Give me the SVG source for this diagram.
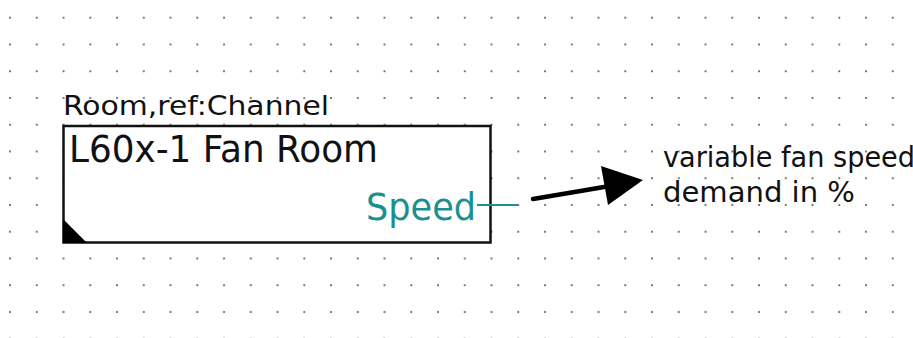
<svg xmlns="http://www.w3.org/2000/svg" width="913" height="338" viewBox="0 0 913 338">
<style>
.lbl{font-family:"DejaVu Sans","Liberation Sans",sans-serif;fill:#111}
.port{font-family:"DejaVu Sans","Liberation Sans",sans-serif;fill:#1a9090}
</style>
<defs>
<pattern id="grid" patternUnits="userSpaceOnUse" x="9" y="16.7" width="26.75" height="26.75">
<rect x="0.1" y="0.1" width="1.9" height="1.9" fill="#6e6e6e"/>
</pattern>
</defs>
<rect width="913" height="338" fill="#fff"/>
<rect width="913" height="338" fill="url(#grid)"/>
<g id="room">
<text class="lbl" x="63" y="114.5" font-size="27" textLength="266" lengthAdjust="spacingAndGlyphs">Room,ref:Channel</text>
<rect x="63.5" y="126" width="427" height="116.5" fill="#fff" stroke="#111" stroke-width="2.5"/>
<path d="M63,219 L63,243 L87,243 Z" fill="#000"/>
<text class="lbl" x="69" y="162" font-size="37" textLength="309" lengthAdjust="spacingAndGlyphs">L60x-1 Fan Room</text>
<text class="port" x="366" y="220" font-size="37" textLength="110" lengthAdjust="spacingAndGlyphs">Speed</text>
<line x1="477" y1="205" x2="518" y2="205" stroke="#1a9090" stroke-width="2"/>
</g>
<g id="connectors">
<line x1="533" y1="199" x2="610" y2="186" stroke="#000" stroke-width="4.5" stroke-linecap="round"/>
<path d="M643,180 L601,166 L608,205 Z" fill="#000"/>
</g>
<g id="note">
<text class="lbl" x="663" y="167" font-size="29" textLength="252" lengthAdjust="spacingAndGlyphs">variable fan speed</text>
<text class="lbl" x="663" y="202" font-size="29" textLength="192" lengthAdjust="spacingAndGlyphs">demand in %</text>
</g>
</svg>
